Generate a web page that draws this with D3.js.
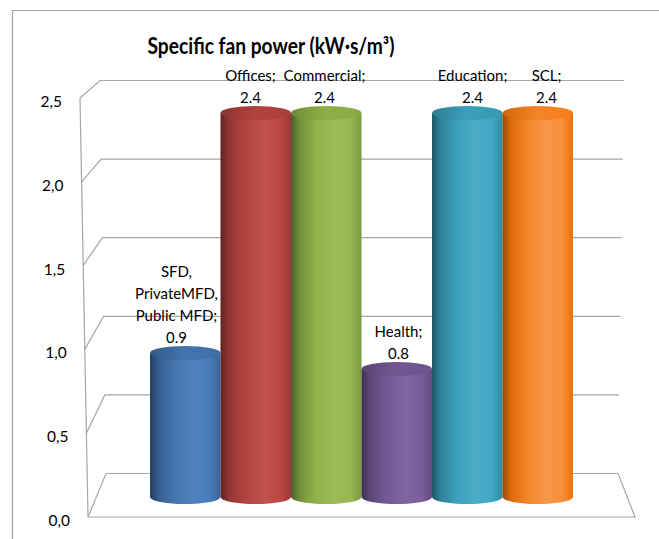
<!DOCTYPE html>
<html>
<head>
<meta charset="utf-8">
<script src="https://cdn.jsdelivr.net/npm/d3@7"></script>
<style>
  html, body { margin: 0; padding: 0; background: #ffffff; }
  svg { display: block; }
  text { font-family: Lato, "Liberation Sans", sans-serif; fill: #000; }
</style>
</head>
<body>
<svg id="chart" width="659" height="539"></svg>
<script>
// Specific fan power by building type
const categories = ["SFD, PrivateMFD, Public MFD", "Offices", "Commercial", "Health", "Education", "SCL"];
const labelLines = [
  ["SFD,", "PrivateMFD,", "Public MFD;"],
  ["Offices;"],
  ["Commercial;"],
  ["Health;"],
  ["Education;"],
  ["SCL;"]
];
const values = [0.9, 2.4, 2.4, 0.8, 2.4, 2.4];
const valueLabels = ["0.9", "2.4", "2.4", "0.8", "2.4", "2.4"];
const yTicks = [0, 0.5, 1.0, 1.5, 2.0, 2.5];
const yTickLabels = ["0,0", "0,5", "1,0", "1,5", "2,0", "2,5"];
const colors = ["#4a7ebb", "#be4b48", "#98b954", "#7d5fa0", "#46aac5", "#f69240"];

const svg = d3.select("#chart");
const W = 659, H = 539;

// outer chart frame (left and top edges visible)
svg.append("path")
  .attr("d", `M12.5,${H} L12.5,10.5 L${W},10.5`)
  .attr("fill", "none").attr("stroke", "#a0a0a0").attr("stroke-width", 1.2);

// Title
svg.append("text")
  .attr("x", 271).attr("y", 45)
  .attr("text-anchor", "middle").attr("dominant-baseline", "central")
  .attr("textLength", 247).attr("lengthAdjust", "spacingAndGlyphs")
  .style("font-size", "22px").style("font-weight", "bold")
  .text("Specific fan power (kW·s/m³)");

// 3D box scales: front plane, back wall and the mid-depth plane the cylinders stand on
const yFront = d3.scaleLinear().domain([0, 2.5]).range([517, 98]);
const yBack = d3.scaleLinear().domain([0, 2.5]).range([473.5, 80.5]);
const yMid = d3.scaleLinear().domain([0, 2.5]).range([497, 97]);
const xFrontLeft = d3.scaleLinear().domain([0, 2.5]).range([88, 80]);
const xBackLeft = d3.scaleLinear().domain([0, 2.5]).range([106, 100]);
const xBackRight = d3.scaleLinear().domain([0, 2.5]).range([618, 624]);
const floorFrontRight = 635;

const grid = svg.append("g").attr("fill", "none").attr("stroke", "#a6a6a6").attr("stroke-width", 1.2);

// gridlines: across the left wall then along the back wall
yTicks.forEach(v => {
  grid.append("path")
    .attr("d", `M${xFrontLeft(v)},${yFront(v)} L${xBackLeft(v)},${yBack(v)} L${xBackRight(v)},${yBack(v)}`);
});
// left wall front edge
grid.append("path")
  .attr("d", `M${xFrontLeft(0)},${yFront(0)} L${xFrontLeft(2.5)},${yFront(2.5)}`);
// floor outline
grid.append("path")
  .attr("d", `M${xFrontLeft(0)},${yFront(0)} L${floorFrontRight},${yFront(0)} L${xBackRight(0)},${yBack(0)}`);

// y axis labels
svg.append("g").selectAll("text")
  .data(yTicks)
  .join("text")
  .attr("x", d => xFrontLeft(d) - 18)
  .attr("y", d => yFront(d) + 3)
  .attr("text-anchor", "end").attr("dominant-baseline", "central")
  .style("font-size", "15.5px")
  .text((d, i) => yTickLabels[i]);

// cylinders
const x = d3.scaleBand().domain(categories).range([150, 573]).padding(0);
const ry = 7;

const defs = svg.append("defs");
function shade(c, k) {
  const h = d3.hsl(c);
  return d3.hsl(h.h, h.s, Math.max(0, Math.min(1, h.l * k))).formatHex();
}
colors.forEach((c, i) => {
  const g = defs.append("linearGradient").attr("id", "body" + i)
    .attr("x1", "0%").attr("x2", "100%").attr("y1", "0%").attr("y2", "0%");
  [[0, 0.5], [0.12, 0.75], [0.35, 0.93], [0.62, 1.03], [0.85, 0.98], [1, 0.8]].forEach(([o, k]) => {
    g.append("stop").attr("offset", o * 100 + "%").attr("stop-color", shade(c, k));
  });
  const t = defs.append("linearGradient").attr("id", "top" + i)
    .attr("x1", "0%").attr("x2", "100%").attr("y1", "0%").attr("y2", "0%");
  [[0, 0.72], [0.5, 0.92], [1, 0.88]].forEach(([o, k]) => {
    t.append("stop").attr("offset", o * 100 + "%").attr("stop-color", shade(c, k));
  });
});

const bars = svg.append("g").selectAll("g")
  .data(values)
  .join("g");

bars.append("path")
  .attr("fill", (d, i) => `url(#body${i})`)
  .attr("d", (d, i) => {
    const x0 = x(categories[i]), x1 = x0 + x.bandwidth();
    const rx = x.bandwidth() / 2;
    const yt = yMid(d), yb = yMid(0);
    return `M${x0},${yt} L${x0},${yb} A${rx},${ry} 0 0 0 ${x1},${yb} L${x1},${yt} Z`;
  });

bars.append("ellipse")
  .attr("cx", (d, i) => x(categories[i]) + x.bandwidth() / 2)
  .attr("cy", d => yMid(d))
  .attr("rx", x.bandwidth() / 2)
  .attr("ry", ry)
  .attr("fill", (d, i) => `url(#top${i})`);

// data labels sit on the front plane, which spreads slightly wider than the mid plane
const plotCenter = (xFrontLeft(0) + floorFrontRight) / 2;
const frontSpread = 1.05;
const labelX = i => {
  const cx = x(categories[i]) + x.bandwidth() / 2;
  return plotCenter + (cx - plotCenter) * frontSpread;
};

const labels = svg.append("g").selectAll("g")
  .data(values)
  .join("g")
  .attr("transform", (d, i) => `translate(${labelX(i)},${yMid(d) - 16})`);

labels.append("text")
  .attr("text-anchor", "middle").attr("dominant-baseline", "central")
  .style("font-size", "15px")
  .text((d, i) => valueLabels[i]);

labels.each(function(d, i) {
  const lines = labelLines[i];
  d3.select(this).selectAll("text.cat")
    .data(lines)
    .join("text")
    .attr("class", "cat")
    .attr("text-anchor", "middle").attr("dominant-baseline", "central")
    .attr("y", (l, j) => -22 * (lines.length - j))
    .style("font-size", "15px")
    .text(l => l);
});
</script>
</body>
</html>
